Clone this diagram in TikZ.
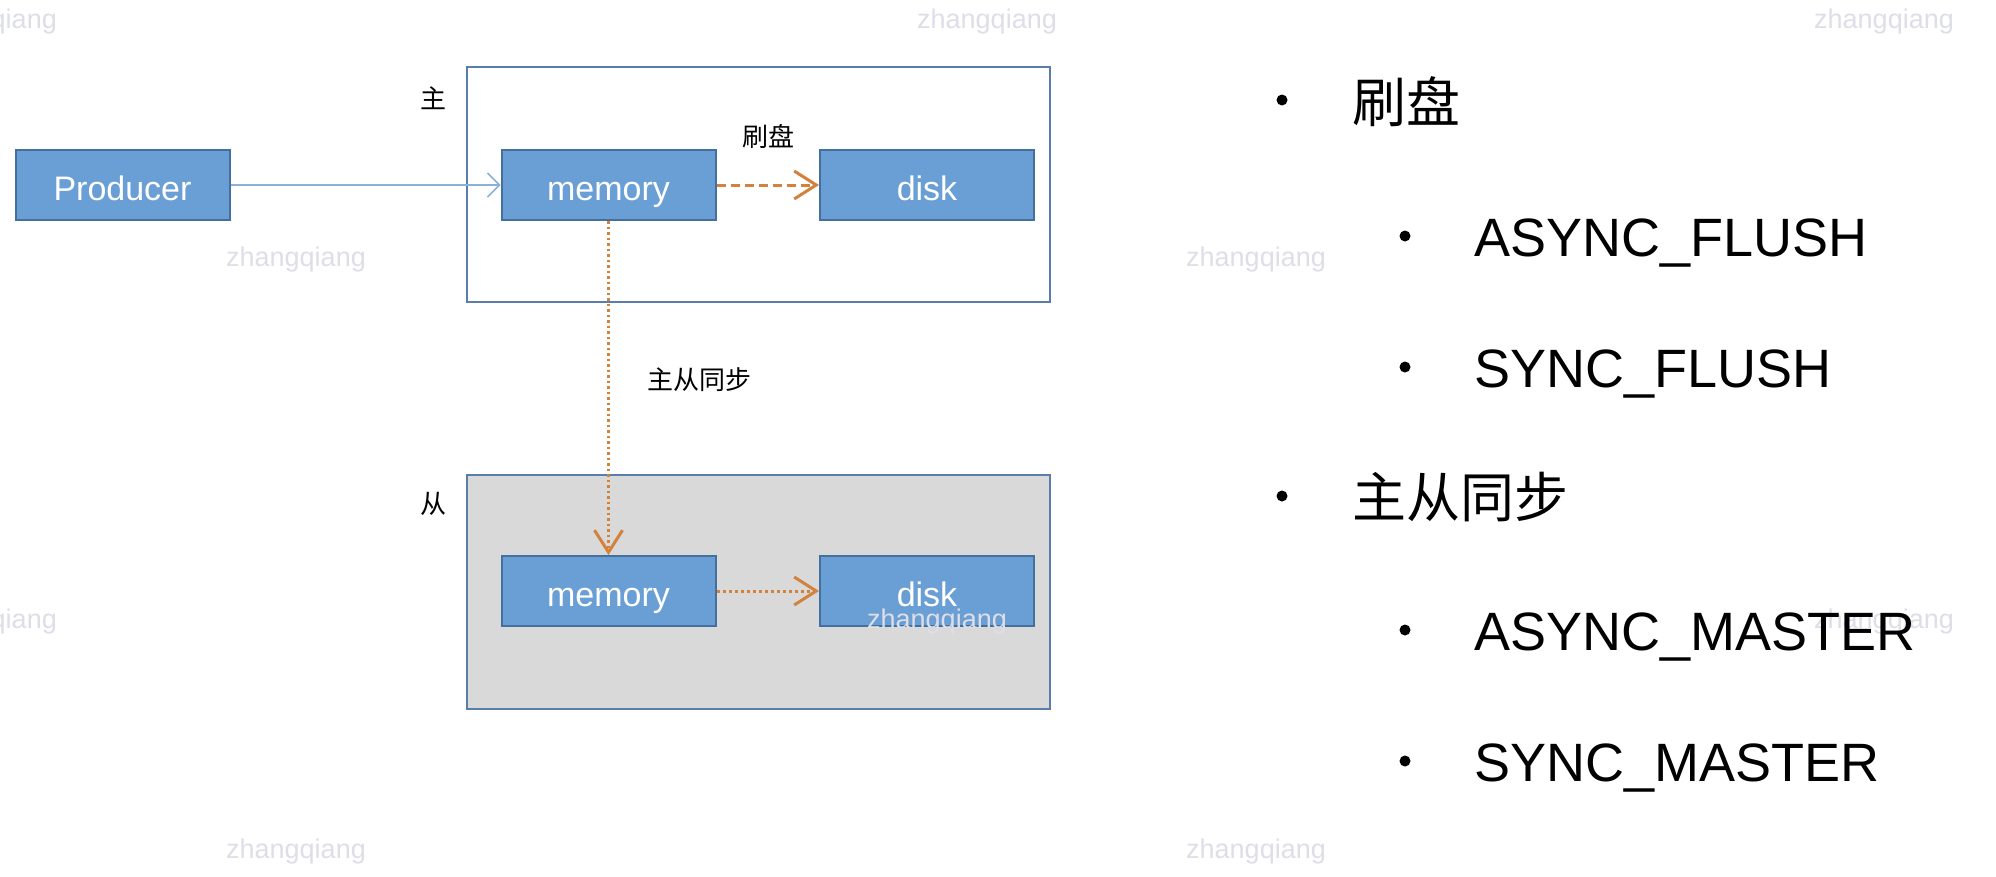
\documentclass[tikz,border=0pt]{standalone}
\usepackage{fontspec}
\setmainfont{Liberation Sans}
\newfontfamily\cjk{Noto Sans CJK SC}
\usetikzlibrary{arrows.meta}
\definecolor{boxblue}{HTML}{6A9FD5}
\definecolor{boxedge}{HTML}{44709F}
\definecolor{frameedge}{HTML}{5A7DAA}
\definecolor{slavegray}{HTML}{D9D9D9}
\definecolor{syncorange}{HTML}{D2823C}
\definecolor{feedblue}{HTML}{8DB0D8}
\definecolor{wmark}{HTML}{DEDEE8}
\tikzset{
  blockbox/.style={draw=boxedge, line width=2pt, fill=boxblue, text=white,
    minimum width=214pt, minimum height=70pt, inner sep=0pt,
    text height=32pt, text depth=2pt,
    font=\fontsize{34}{40}\selectfont},
  framebox/.style={draw=frameedge, line width=2.5pt},
  smalllabel/.style={font=\cjk\fontsize{26}{30}\selectfont, text=black, inner sep=0pt},
  bigtext/.style={font=\fontsize{54}{60}\selectfont, text=black, inner sep=0pt, anchor=base west},
  bigcjk/.style={font=\cjk\fontsize{54}{60}\selectfont, text=black, inner sep=0pt, anchor=base west},
  bulletdot/.style={circle, fill=black, inner sep=0pt, minimum size=11pt},
  wm/.style={font=\fontsize{27}{30}\selectfont, text=wmark, inner sep=0pt},
  syncarrow/.style={draw=syncorange, -{Straight Barb[length=22pt, width=28pt, line width=3pt]}},
}
\begin{document}
\begin{tikzpicture}[x=1pt, y=-1pt]
\clip (0,0) rectangle (1996,876);
\fill[white] (0,0) rectangle (1996,876);

% watermarks
\node[wm] (w1) at (-13,22) {zhangqiang};
\node[wm] (w2) at (987,22) {zhangqiang};
\node[wm] (w3) at (1884,22) {zhangqiang};
\node[wm] (w4) at (296,260) {zhangqiang};
\node[wm] (w5) at (1256,260) {zhangqiang};
\node[wm] (w6) at (-13,622) {zhangqiang};
\node[wm] (w9) at (296,852) {zhangqiang};
\node[wm] (w10) at (1256,852) {zhangqiang};

% frames
\draw[framebox] (467,67) rectangle (1050,302);
\draw[framebox, fill=slavegray] (467,475) rectangle (1050,709);
\node[smalllabel] (lmaster) at (433,98) {主};
\node[smalllabel] (lslave) at (433,504) {从};

% blocks
\node[blockbox] (prod) at (122.5,185) {Producer};
\node[blockbox] (mem1) at (608.5,185) {memory};
\node[blockbox] (disk1) at (927,185) {disk};
\node[blockbox] (mem2) at (608.5,591) {memory};
\node[blockbox] (disk2) at (927,591) {disk};

% watermarks over slave area
\node[wm] (w7) at (937,622) {zhangqiang};
\node[wm] (w8) at (1884,622) {zhangqiang};

% connectors
\draw[draw=feedblue, line width=1.5pt, -{Straight Barb[length=12pt, width=24pt, line width=1.5pt]}] (prod) -- (mem1);
\draw[syncarrow, line width=3pt, dash pattern=on 9pt off 5pt] (mem1) -- (disk1);
\draw[syncarrow, line width=2.5pt, dash pattern=on 2.5pt off 3pt] (mem1.south) -- (mem2.north);
\draw[syncarrow, line width=3pt, dash pattern=on 3pt off 3pt] (mem2) -- (disk2);
\node[smalllabel] (lflush) at (768,136) {刷盘};
\node[smalllabel, anchor=west] (lsync) at (647,380) {主从同步};

% right list
\node[bulletdot] (b1) at (1282,100) {};
\node[bigcjk] (t1) at (1352,122) {刷盘};
\node[bulletdot] (b11) at (1405,236) {};
\node[bigtext] (t11) at (1474,256) {ASYNC\_FLUSH};
\node[bulletdot] (b12) at (1405,367) {};
\node[bigtext] (t12) at (1474,387) {SYNC\_FLUSH};
\node[bulletdot] (b2) at (1282,496) {};
\node[bigcjk] (t2) at (1352,517) {主从同步};
\node[bulletdot] (b21) at (1405,630) {};
\node[bigtext] (t21) at (1474,650) {ASYNC\_MASTER};
\node[bulletdot] (b22) at (1405,761) {};
\node[bigtext] (t22) at (1474,781) {SYNC\_MASTER};
\end{tikzpicture}
\end{document}
